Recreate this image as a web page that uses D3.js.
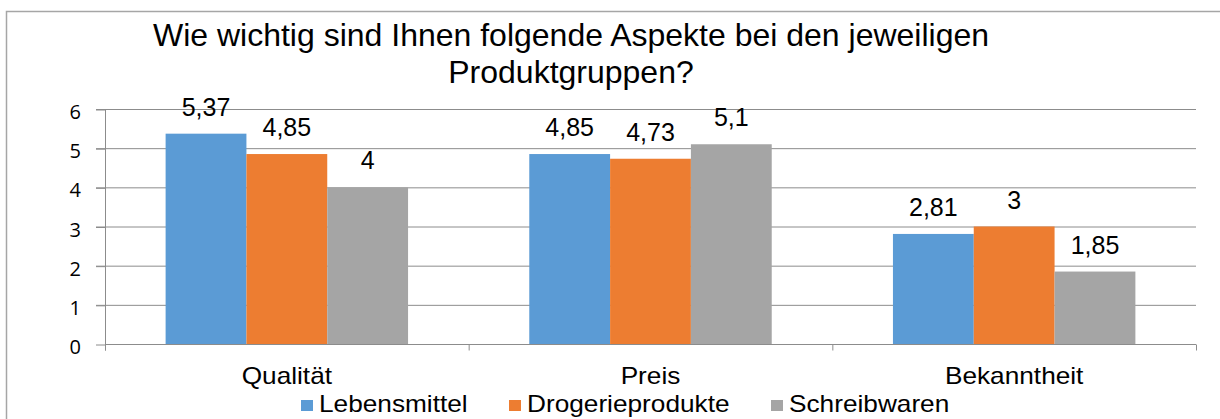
<!DOCTYPE html>
<html>
<head>
<meta charset="utf-8">
<script src="https://d3js.org/d3.v7.min.js"></script>
<style>
  body { margin: 0; background: #fff; }
  svg { display: block; font-family: "Liberation Sans", Arial, sans-serif; }
</style>
</head>
<body>
<svg width="1220" height="419"></svg>
<script>
var categories = ["Qualität", "Preis", "Bekanntheit"];
var series = ["Lebensmittel", "Drogerieprodukte", "Schreibwaren"];
var lebensmittel = [5.37, 4.85, 2.81];
var drogerie = [4.85, 4.73, 3];
var schreibwaren = [4, 5.1, 1.85];
var yTicks = [0, 1, 2, 3, 4, 5, 6];
var colors = ["#5b9bd5", "#ed7d31", "#a5a5a5"];

var values = [lebensmittel, drogerie, schreibwaren];

var svg = d3.select("svg");

// outer frame
svg.append("rect").attr("x", 6.5).attr("y", 11.5).attr("width", 1230).attr("height", 430)
  .attr("fill", "none").attr("stroke", "#a6a6a6").attr("stroke-width", 1.5);

// title
var title = svg.append("text").attr("text-anchor", "middle").attr("font-size", 32).attr("fill", "#000");
title.append("tspan").attr("x", 571).attr("y", 46).text("Wie wichtig sind Ihnen folgende Aspekte bei den jeweiligen");
title.append("tspan").attr("x", 571).attr("y", 83).text("Produktgruppen?");

var pLeft = 105, pRight = 1196, pTop = 109, pBottom = 344;
var stretch = "scale(1.14,1)";

var x0 = d3.scaleBand().domain(categories).range([pLeft, pRight]).paddingInner(0).paddingOuter(0);
var x1 = d3.scaleBand().domain(series).range([x0.bandwidth() / 6, x0.bandwidth() * 5 / 6]);
var y = d3.scaleLinear().domain([0, 6]).range([pBottom, pTop]);

// gridlines
svg.append("g").selectAll("line").data(yTicks.filter(function(d) { return d > 0; })).enter().append("line")
  .attr("x1", pLeft - 9).attr("x2", pRight)
  .attr("y1", function(d) { return y(d) + 0.5; }).attr("y2", function(d) { return y(d) + 0.5; })
  .attr("stroke", "#8c8c8c").attr("stroke-width", 1);

// y axis
var yAxis = d3.axisLeft(y).tickValues(yTicks).tickSize(9).tickPadding(15).tickFormat(d3.format("d"));
var gy = svg.append("g").attr("transform", "translate(" + pLeft + ",0.5)").call(yAxis);
gy.select(".domain").remove();
gy.append("line").attr("x1", 0.5).attr("x2", 0.5).attr("y1", pTop).attr("y2", pBottom + 6)
  .attr("stroke", "#8c8c8c");
gy.selectAll(".tick line").attr("stroke", "#8c8c8c");
gy.selectAll(".tick text").attr("font-size", 20).attr("fill", "#000").attr("dy", "0.45em")
  .attr("font-family", "'Open Sans', 'Noto Sans', sans-serif");

// bars
var groups = svg.append("g").selectAll("g").data(categories).enter().append("g")
  .attr("transform", function(d) { return "translate(" + x0(d) + ",0)"; });

function rows(c, i) {
  return series.map(function(s, j) { return { s: s, v: values[j][i], j: j }; });
}

groups.selectAll("rect").data(rows).enter().append("rect")
  .attr("x", function(d) { return x1(d.s); })
  .attr("width", x1.bandwidth())
  .attr("y", function(d) { return y(d.v); })
  .attr("height", function(d) { return pBottom - y(d.v); })
  .attr("fill", function(d) { return colors[d.j]; });

groups.selectAll("text").data(rows).enter().append("text")
  .attr("x", function(d) { return x1(d.s) + x1.bandwidth() / 2; })
  .attr("y", function(d) { return y(d.v) - 18; })
  .attr("text-anchor", "middle").attr("font-size", 25).attr("fill", "#000")
  .text(function(d) { return String(d.v).replace(".", ","); });

// x axis
var xAxis = d3.axisBottom(x0).tickSize(0).tickPadding(22);
var gx = svg.append("g").attr("transform", "translate(0," + (pBottom + 0.5) + ")").call(xAxis);
gx.select(".domain").attr("stroke", "#8c8c8c").attr("d", "M" + pLeft + ",0H" + pRight);
gx.selectAll(".tick text").attr("font-size", 23).attr("fill", "#000").attr("dy", null)
  .attr("y", 40).attr("transform", stretch)
  .attr("font-family", "'Liberation Sans', Arial, sans-serif");
gx.selectAll("line.sep").data(categories.map(function(c) { return x0(c); }).concat([pRight])).enter()
  .append("line").attr("class", "sep")
  .attr("x1", function(d) { return d + 0.5; }).attr("x2", function(d) { return d + 0.5; })
  .attr("y1", 0).attr("y2", 6).attr("stroke", "#8c8c8c");

// legend
var legendX = [301, 509, 771];
var legend = svg.append("g").selectAll("g").data(series).enter().append("g")
  .attr("transform", function(d, i) { return "translate(" + legendX[i] + ",0)"; });
legend.append("rect").attr("x", 0).attr("y", 400).attr("width", 12).attr("height", 11)
  .attr("fill", function(d, i) { return colors[i]; });
legend.append("g").attr("transform", "translate(18,412)").append("text")
  .attr("transform", stretch).attr("font-size", 23).attr("fill", "#000")
  .text(function(d) { return d; });
</script>
</body>
</html>
